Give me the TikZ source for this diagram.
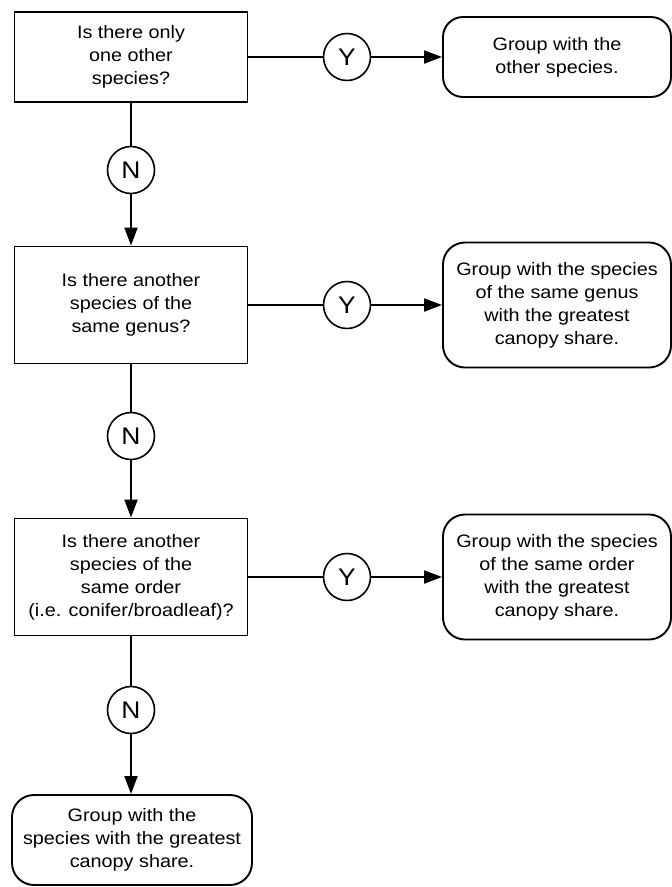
\documentclass[tikz,border=0pt]{standalone}
\usepackage{fontspec}
\setmainfont{Liberation Sans}[FakeStretch=1.1]
\usetikzlibrary{arrows.meta}
\begin{document}
\begin{tikzpicture}[x=1pt,y=-1pt,
  line width=1.9pt,
  txt/.style={font=\fontsize{18}{23}\selectfont, align=center, inner sep=0pt},
  qbox/.style={txt, draw, rectangle, minimum width=233pt, minimum height=117pt},
  rbox/.style={txt, draw, rectangle, rounded corners=22pt, minimum width=228pt, minimum height=125pt},
  lab/.style={draw, circle, inner sep=0pt, minimum size=47pt, line width=1.6pt, font=\fontsize{24}{24}\selectfont},
  arr/.style={-{Triangle[length=18pt,width=13pt]}},
]
\useasboundingbox (0,0) rectangle (672,887);

\node[qbox, minimum height=90pt] (q1) at (131,57) {Is there only\\one other\\species?};
\node[qbox] (q2) at (131,305) {Is there another\\species of the\\same genus?};
\node[qbox] (q3) at (131,577) {Is there another\\species of the\\same order\\(i.e. conifer/broadleaf)?};

\node[rbox, minimum height=80pt, rounded corners=20pt] (r1) at (557,57) {Group with the\\other species.};
\node[rbox] (r2) at (557,305) {Group with the species\\of the same genus\\with the greatest\\canopy share.};
\node[rbox] (r3) at (557,577) {Group with the species\\of the same order\\with the greatest\\canopy share.};
\node[rbox, minimum width=240pt, minimum height=90pt] (r4) at (132,840) {Group with the\\species with the greatest\\canopy share.};

\node[lab] (y1) at (347,57) {Y};
\node[lab] (y2) at (347,305) {Y};
\node[lab] (y3) at (347,577) {Y};
\node[lab] (n1) at (131,170) {N};
\node[lab] (n2) at (131,436) {N};
\node[lab] (n3) at (131,710) {N};

\draw (q1) -- (y1);
\draw[arr] (y1) -- (r1);
\draw (q2) -- (y2);
\draw[arr] (y2) -- (r2);
\draw (q3) -- (y3);
\draw[arr] (y3) -- (r3);

\draw (q1) -- (n1);
\draw[arr] (n1) -- (q2);
\draw (q2) -- (n2);
\draw[arr] (n2) -- (q3);
\draw (q3) -- (n3);
\draw[arr] (n3) -- (r4.north -| n3);
\end{tikzpicture}
\end{document}
